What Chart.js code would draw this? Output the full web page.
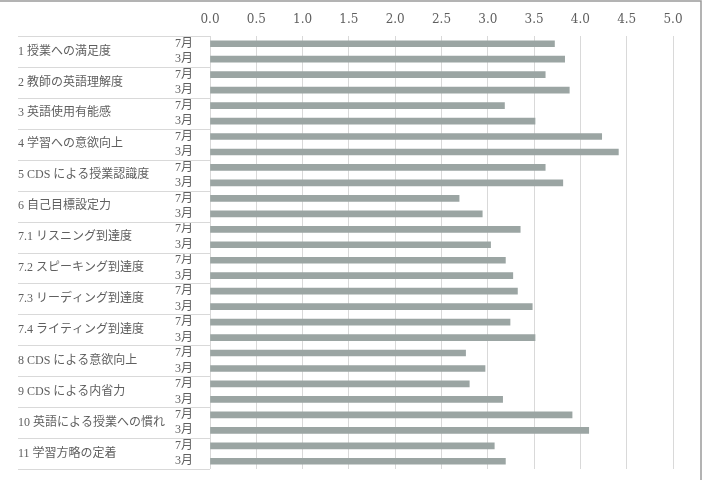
<!DOCTYPE html>
<html>
<head>
<meta charset="utf-8">
<script src="https://cdn.jsdelivr.net/npm/chart.js@4"></script>
<style>
  body { margin: 0; background: #fff; }
  #wrap { width: 706px; height: 480px; }
</style>
</head>
<body>
<div id="wrap"><canvas id="myChart" width="706" height="480"></canvas></div>
<script>
  const groups = [
    '1 授業への満足度',
    '2 教師の英語理解度',
    '3 英語使用有能感',
    '4 学習への意欲向上',
    '5 CDS による授業認識度',
    '6 自己目標設定力',
    '7.1 リスニング到達度',
    '7.2 スピーキング到達度',
    '7.3 リーディング到達度',
    '7.4 ライティング到達度',
    '8 CDS による意欲向上',
    '9 CDS による内省力',
    '10 英語による授業への慣れ',
    '11 学習方略の定着',
  ];
  const months = ['7月', '3月'];

  // 7月 and 3月 values per group
  const july  = [3.72, 3.62, 3.18, 4.23, 3.62, 2.69, 3.35, 3.19, 3.32, 3.24, 2.76, 2.80, 3.91, 3.07];
  const march = [3.83, 3.88, 3.51, 4.41, 3.81, 2.94, 3.03, 3.27, 3.48, 3.51, 2.97, 3.16, 4.09, 3.19];

  const xTicks = [0, 0.5, 1, 1.5, 2, 2.5, 3, 3.5, 4, 4.5, 5];

  const labels = [];
  const values = [];
  groups.forEach((g, i) => {
    labels.push(months[0]); values.push(july[i]);
    labels.push(months[1]); values.push(march[i]);
  });

  const fontFamily = "'Liberation Serif', 'Noto Sans CJK JP', serif";
  const tickFamily = "'DejaVu Serif', serif";
  const textColor = '#5f5f5f';

  const frame = {
    id: 'frame',
    beforeDraw(chart) {
      const c = chart.ctx;
      c.save();
      c.strokeStyle = '#9a9a9a';
      c.lineWidth = 1.5;
      c.beginPath();
      c.moveTo(0, 1);
      c.lineTo(701, 1);
      c.lineTo(701, 480);
      c.stroke();
      c.restore();
    },
    afterDraw(chart) {
      const c = chart.ctx;
      const y = chart.scales.y;
      const left = chart.scales.y2.left;
      const right = chart.chartArea.left;
      c.save();
      c.strokeStyle = '#d9d9d9';
      c.lineWidth = 1;
      for (let i = 0; i <= groups.length; i++) {
        const py = Math.round(y.getPixelForValue(2 * i - 0.5)) + 0.5;
        c.beginPath();
        c.moveTo(left, py);
        c.lineTo(right, py);
        c.stroke();
      }
      c.restore();
    }
  };

  // side axes should not push the plot area in
  const noPad = (s) => { s.paddingTop = 0; s.paddingBottom = 0; };

  const data = {
    labels: labels,
    datasets: [{
      label: '平均',
      backgroundColor: 'rgb(155, 165, 163)',
      data: values,
      barThickness: 6,
    }]
  };

  const config = {
    type: 'bar',
    data: data,
    plugins: [frame],
    options: {
      indexAxis: 'y',
      responsive: false,
      animation: false,
      layout: { padding: { left: 18, right: 33, top: 0, bottom: 11 } },
      plugins: { legend: { display: false }, tooltip: { enabled: false } },
      scales: {
        x: {
          position: 'top',
          min: 0,
          max: 5,
          afterBuildTicks: (s) => { s.ticks = xTicks.map(v => ({ value: v })); },
          afterFit: (s) => { s.height = 36; },
          ticks: {
            padding: 9,
            color: textColor,
            font: { family: tickFamily, size: 12 },
            callback: (v) => Number(v).toFixed(1),
          },
          grid: { color: '#d9d9d9', drawTicks: false },
          border: { display: false },
        },
        y: {
          position: 'left',
          weight: 0,
          afterFit: (s) => { s.width = 40; noPad(s); },
          ticks: {
            padding: 17,
            color: textColor,
            font: { family: fontFamily, size: 12 },
            autoSkip: false,
          },
          grid: { display: false, drawTicks: false },
          border: { display: false },
        },
        y2: {
          type: 'category',
          labels: groups,
          position: 'left',
          weight: 1,
          offset: true,
          afterFit: (s) => { s.width = 152; noPad(s); },
          ticks: {
            crossAlign: 'far',
            padding: 0,
            color: textColor,
            font: { family: fontFamily, size: 12 },
            autoSkip: false,
          },
          grid: { display: false, drawTicks: false },
          border: { display: false },
        }
      }
    }
  };

  const myChart = new Chart(
    document.getElementById('myChart'),
    config
  );
</script>
</body>
</html>
